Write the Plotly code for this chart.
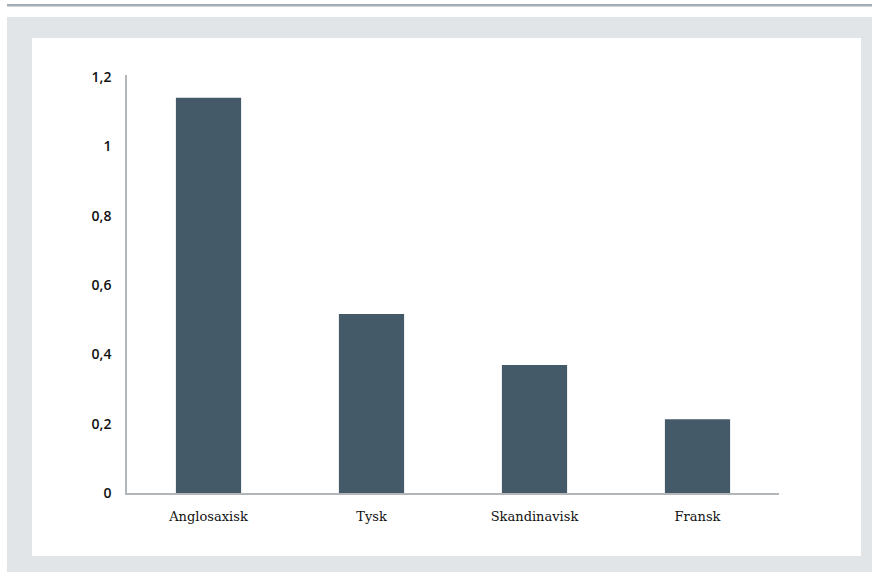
import plotly.graph_objects as go

categories = ["Anglosaxisk", "Tysk", "Skandinavisk", "Fransk"]
values = [1.14, 0.516, 0.369, 0.213]
y_tickvals = [0, 0.2, 0.4, 0.6, 0.8, 1, 1.2]
y_ticktext = ["0", "0,2", "0,4", "0,6", "0,8", "1", "1,2"]

W, H = 872, 572
L, R, T, B = 127, 93, 75, 79
plot_w = W - L - R
plot_h = H - T - B


def px_x(px):
    return (px - L) / plot_w


def px_y(py):
    return (H - B - py) / plot_h


fig = go.Figure(
    go.Bar(
        x=categories,
        y=values,
        width=0.4,
        marker=dict(color="#445a68", line=dict(width=0)),
        hoverinfo="skip",
    )
)

shapes = [
    # thin rule at the very top
    dict(type="rect", xref="paper", yref="paper",
         x0=px_x(7), x1=px_x(872), y0=px_y(6.5), y1=px_y(4),
         fillcolor="#a3adb7", line=dict(width=0), layer="below"),
    # grey frame
    dict(type="rect", xref="paper", yref="paper",
         x0=px_x(7), x1=px_x(872), y0=px_y(572), y1=px_y(17),
         fillcolor="#e1e5e8", line=dict(width=0), layer="below"),
    # white card
    dict(type="rect", xref="paper", yref="paper",
         x0=px_x(32), x1=px_x(861), y0=px_y(556), y1=px_y(38),
         fillcolor="#ffffff", line=dict(width=0), layer="below"),
]

fig.update_layout(
    width=W, height=H,
    margin=dict(l=L, r=R, t=T, b=B, pad=0),
    paper_bgcolor="#ffffff",
    plot_bgcolor="rgba(0,0,0,0)",
    showlegend=False,
    shapes=shapes,
    bargap=0.6,
    xaxis=dict(
        type="category",
        range=[-0.5, 3.5],
        showgrid=False,
        zeroline=False,
        showline=True,
        linecolor="#b3b6b9",
        linewidth=2,
        ticks="",
        ticklabelstandoff=10,
        tickfont=dict(family="DejaVu Serif", size=13, color="#111111"),
    ),
    yaxis=dict(
        range=[0, 1.2 * (418 / 416)],
        tickvals=y_tickvals,
        ticktext=y_ticktext,
        showgrid=False,
        zeroline=False,
        showline=True,
        linecolor="#b3b6b9",
        linewidth=1.5,
        ticks="",
        ticklabelstandoff=11,
        tickfont=dict(family="Open Sans", size=14, color="#111111", weight=600),
    ),
)

fig.write_html("out.html")
